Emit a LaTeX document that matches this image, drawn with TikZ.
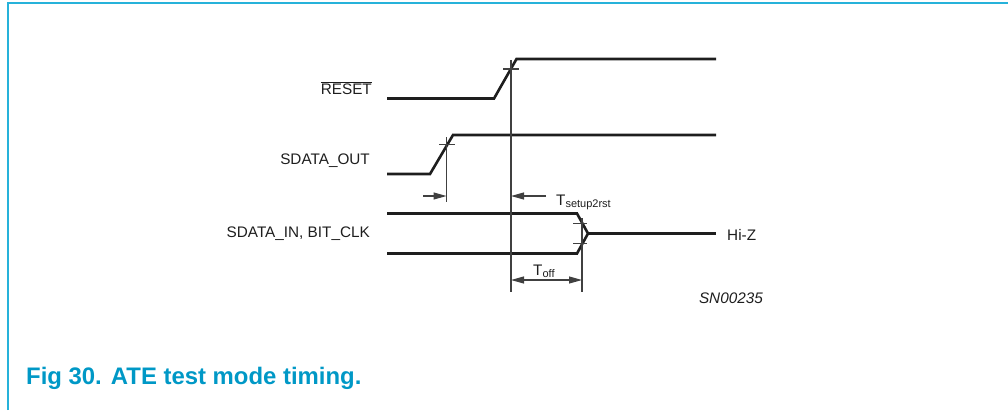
\documentclass[tikz,border=0pt]{standalone}
\usepackage{fontspec}
\setmainfont{Liberation Sans}
\usetikzlibrary{arrows.meta}
\definecolor{framecol}{RGB}{38,178,218}
\definecolor{capcol}{RGB}{0,152,198}
\definecolor{inkcol}{RGB}{30,30,30}
\tikzset{
  sig/.style={line width=2.6pt, inkcol, line join=miter},
  thin/.style={line width=1.1pt, inkcol!85},
  lbl/.style={font=\fontsize{15.3}{18}\selectfont, text=inkcol, inner sep=0pt},
  dimarrow/.style={thin, -{Triangle[length=13pt,width=7pt]}},
  dimboth/.style={thin, {Triangle[length=13pt,width=7pt]}-{Triangle[length=13pt,width=7pt]}},
}
\begin{document}
\begin{tikzpicture}[x=1pt,y=-1pt]
\useasboundingbox (0,0) rectangle (1008,410);
% frame
\draw[framecol, line width=2pt] (8,410) -- (8,2.5) -- (1008,2.5);
% caption
\node[anchor=base west, inner sep=0pt, text=capcol, font=\bfseries\fontsize{23.9}{28}\selectfont] (cap) at (26,384) {Fig 30.\hspace{9pt}ATE test mode timing.};
% labels
\node[lbl, anchor=east] (lreset) at (372,88) {$\overline{\mbox{RESET}}$};
\node[lbl, anchor=east] (lsout) at (370,161) {SDATA\_OUT};
\node[lbl, anchor=east] (lsin) at (370,233.5) {SDATA\_IN, BIT\_CLK};
\node[lbl, anchor=west] (lhiz) at (727,235) {Hi-Z};
\node[lbl, anchor=east, font=\itshape\fontsize{15.3}{18}\selectfont] (lsn) at (763,298) {SN00235};
\node[lbl, anchor=base west] (lts) at (556,205) {T\raisebox{-2.5pt}{\fontsize{11}{13}\selectfont setup2rst}};
\node[lbl, anchor=base west] (lto) at (533,275) {T\raisebox{-2.5pt}{\fontsize{11}{13}\selectfont off}};
% RESET waveform
\coordinate (r0) at (387,98.5);
\coordinate (r1) at (494,98.5);
\coordinate (r2) at (516.5,59);
\coordinate (r3) at (716,59);
\draw[sig] (r0) -- (r1) -- (r2) -- (r3);
% SDATA_OUT waveform
\coordinate (o0) at (387,174);
\coordinate (o1) at (430,174);
\coordinate (o2) at (453,135);
\coordinate (o3) at (716,135);
\draw[sig] (o0) -- (o1) -- (o2) -- (o3);
% SDATA_IN waveform
\coordinate (i0) at (387,213.5);
\coordinate (i1) at (577,213.5);
\coordinate (i2) at (387,253.5);
\coordinate (i3) at (577,253.5);
\coordinate (iz) at (588,233.5);
\coordinate (i4) at (716,233.5);
\draw[sig] (i0) -- (i1) -- (iz) -- (i3) -- (i2);
\draw[sig] (iz) -- (i4);
% reference lines
\coordinate (vr0) at (511,60);
\coordinate (vr1) at (511,292);
\draw[thin] (vr0) -- (vr1);
\coordinate (vo0) at (446.5,137);
\coordinate (vo1) at (446.5,202);
\draw[thin] (vo0) -- (vo1);
\coordinate (vi0) at (582,218);
\coordinate (vi1) at (582,292);
\draw[thin] (vi0) -- (vi1);
% ticks
\draw[thin] (503,69) -- (519,69);
\draw[thin] (439,144.5) -- (455,144.5);
\draw[thin] (573,223.5) -- (587,223.5);
\draw[thin] (573,243.5) -- (587,243.5);
% dimension arrows
\coordinate (a0) at (423,196);
\coordinate (a1) at (446.5,196);
\draw[dimarrow] (a0) -- (a1);
\coordinate (b0) at (546,196);
\coordinate (b1) at (511,196);
\draw[dimarrow] (b0) -- (b1);
\coordinate (c0) at (511,280);
\coordinate (c1) at (582,280);
\draw[dimboth] (c0) -- (c1);
\end{tikzpicture}
\end{document}
